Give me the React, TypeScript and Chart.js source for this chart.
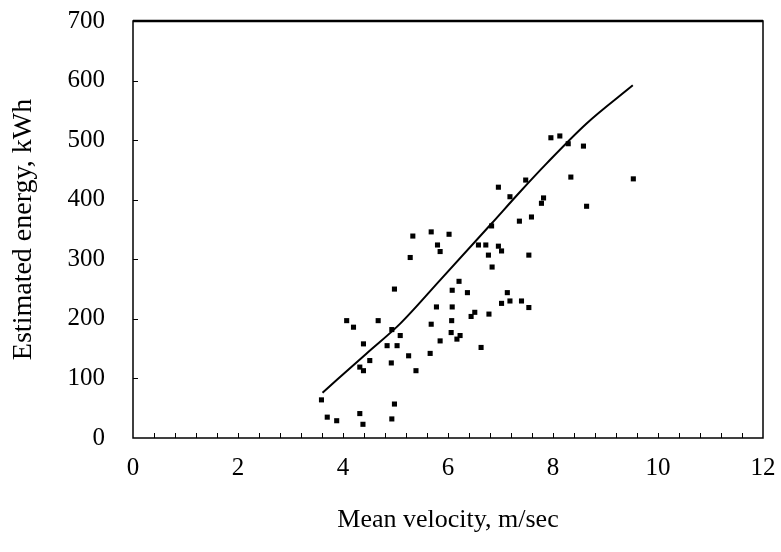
import React, { useEffect, useRef } from "react";
import { Chart, registerables } from "chart.js";

Chart.register(...registerables);

const velocity = [3.59, 3.70, 3.88, 4.07, 4.20, 4.32, 4.39, 4.39, 4.32, 4.38, 4.51, 4.67, 4.84, 4.92, 4.93, 4.93, 4.98, 4.98, 5.03, 5.09, 5.25, 5.28, 5.33, 5.39, 5.66, 5.68, 5.68, 5.78, 5.80, 5.85, 5.85, 6.02, 6.06, 6.07, 6.08, 6.08, 6.17, 6.21, 6.23, 6.37, 6.44, 6.51, 6.58, 6.63, 6.72, 6.77, 6.78, 6.83, 6.84, 6.96, 6.96, 7.02, 7.02, 7.13, 7.18, 7.18, 7.36, 7.40, 7.48, 7.54, 7.54, 7.59, 7.78, 7.82, 7.96, 8.13, 8.29, 8.34, 8.58, 8.64, 9.53];
const energy = [64, 35, 29, 197, 186, 119, 113, 158, 41, 23, 130, 197, 155, 126, 182, 32, 250, 57, 155, 172, 138, 303, 339, 113, 142, 191, 346, 220, 324, 163, 313, 342, 177, 197, 220, 248, 166, 263, 172, 244, 204, 211, 324, 152, 324, 307, 208, 356, 287, 322, 421, 314, 226, 244, 230, 405, 364, 230, 433, 307, 219, 371, 394, 403, 504, 507, 494, 438, 490, 389, 435];

const fitVelocity = [3.61, 4.45, 5.09, 5.85, 6.83, 7.37, 7.88, 8.64, 9.52];
const fitEnergy = [76, 142, 192, 265, 360, 413, 461, 528, 592];

const xTicks = [0, 2, 4, 6, 8, 10, 12];
const yTicks = [0, 100, 200, 300, 400, 500, 600, 700];
const xMinorStep = 0.4;

const FONT = "'Liberation Serif', 'DejaVu Serif', serif";

const framePlugin = {
  id: "frame",
  afterDraw(chart: any) {
    const { ctx } = chart;
    const xs = chart.scales.x;
    const ys = chart.scales.y;
    const left = xs.getPixelForValue(0);
    const right = xs.getPixelForValue(12);
    const top = ys.getPixelForValue(700);
    const bottom = ys.getPixelForValue(0);
    ctx.save();
    ctx.strokeStyle = "#000";
    ctx.lineWidth = 1.5;
    ctx.strokeRect(left, top, right - left, bottom - top);
    ctx.lineWidth = 2.5;
    ctx.beginPath();
    ctx.moveTo(left, top);
    ctx.lineTo(right, top);
    ctx.stroke();
    ctx.lineWidth = 1;
    ctx.beginPath();
    for (let i = 1; i * xMinorStep < 12 - 1e-6; i++) {
      const px = Math.round(xs.getPixelForValue(i * xMinorStep)) + 0.5;
      ctx.moveTo(px, bottom);
      ctx.lineTo(px, bottom - 5);
    }
    for (const v of yTicks) {
      if (v === 0 || v === 700) continue;
      const py = Math.round(ys.getPixelForValue(v)) + 0.5;
      ctx.moveTo(left, py);
      ctx.lineTo(left + 5, py);
    }
    ctx.stroke();
    ctx.restore();
  },
};

export default function App() {
  const ref = useRef<HTMLCanvasElement>(null);
  useEffect(() => {
    if (!ref.current) return;
    const chart = new Chart(ref.current, {
      type: "scatter",
      data: {
        datasets: [
          {
            label: "Measured",
            data: velocity.map((v, i) => ({ x: v, y: energy[i] })),
            pointStyle: "rect",
            pointRadius: 3.6,
            backgroundColor: "#000",
            borderColor: "#000",
            borderWidth: 0,
          },
          {
            label: "Fit",
            type: "line",
            data: fitVelocity.map((v, i) => ({ x: v, y: fitEnergy[i] })),
            borderColor: "#000",
            borderWidth: 2,
            pointRadius: 0,
            cubicInterpolationMode: "monotone",
            fill: false,
          } as any,
        ],
      },
      options: {
        animation: false,
        responsive: false,
        maintainAspectRatio: false,
        layout: { padding: { top: 21, right: 18, left: 0, bottom: 0 } },
        plugins: { legend: { display: false }, tooltip: { enabled: false } },
        scales: {
          x: {
            type: "linear",
            min: 0,
            max: 12,
            afterFit(scale: any) { scale.height = 114; scale.paddingLeft = 0; scale.paddingRight = 0; },
            afterBuildTicks(scale: any) { scale.ticks = xTicks.map((v) => ({ value: v })); },
            grid: { display: false, drawTicks: false },
            border: { display: false },
            ticks: { color: "#000", padding: 15, font: { family: FONT, size: 25 }, maxRotation: 0 },
            title: { display: true, text: "Mean velocity, m/sec", color: "#000", font: { family: FONT, size: 26 }, padding: { bottom: 16, top: 0 } },
          },
          y: {
            type: "linear",
            min: 0,
            max: 700,
            afterFit(scale: any) { scale.width = 133; scale.paddingTop = 0; scale.paddingBottom = 0; },
            afterBuildTicks(scale: any) { scale.ticks = yTicks.map((v) => ({ value: v })); },
            grid: { display: false, drawTicks: false },
            border: { display: false },
            ticks: { color: "#000", padding: 28, font: { family: FONT, size: 25 } },
            title: { display: true, text: "Estimated energy, kWh", color: "#000", font: { family: FONT, size: 28 }, padding: { top: 7, bottom: 0 } },
          },
        },
      },
      plugins: [framePlugin],
    });
    return () => chart.destroy();
  }, []);
  return (
    <div style={{ position: "fixed", left: 0, top: 0, width: 781, height: 552, background: "#fff" }}>
      <canvas ref={ref} width={781} height={552} style={{ width: 781, height: 552 }} />
    </div>
  );
}
